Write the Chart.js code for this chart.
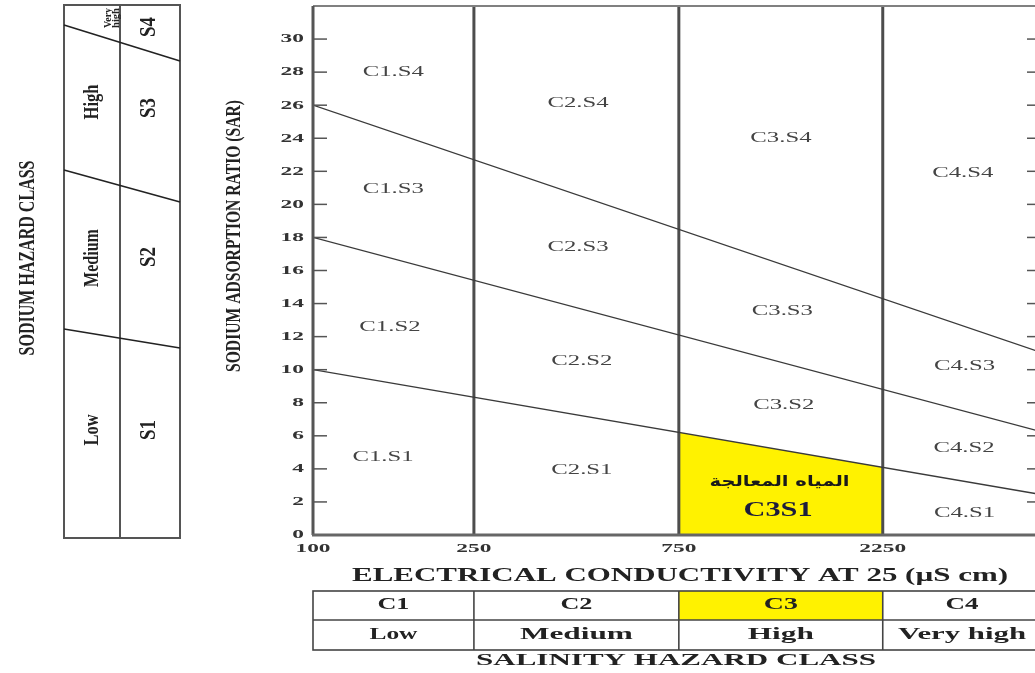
<!DOCTYPE html>
<html>
<head>
<meta charset="utf-8">
<script src="https://cdn.jsdelivr.net/npm/chart.js@4.4.1/dist/chart.umd.min.js"></script>
<style>
  html, body { margin: 0; padding: 0; background: #fff; overflow: hidden; }
  #wrap { position: relative; width: 1050px; height: 673px; }
</style>
</head>
<body>
<div id="wrap"><canvas id="wilcoxChart"></canvas></div>
<script>
// EC axis (uS/cm)
const ecTicks = [100, 250, 750, 2250];
const ecEdges = [100, 250, 750, 2250, 5000];
const sarTicks = [0, 2, 4, 6, 8, 10, 12, 14, 16, 18, 20, 22, 24, 26, 28, 30];

// hazard boundary lines: SAR at EC 100 and at EC 5000
const boundaryEC = [100, 5000];
const s1s2SAR = [10, 2.45];
const s2s3SAR = [18, 6.25];
const s3s4SAR = [26, 11.05];

// treated water zone (C3S1), top follows the S1/S2 line
const zoneEC = [750, 2250];
const zoneSAR = [6.2, 4.1];

// class labels inside the diagram
const regionNames = ['C1.S4', 'C1.S3', 'C1.S2', 'C1.S1',
                     'C2.S4', 'C2.S3', 'C2.S2', 'C2.S1',
                     'C3.S4', 'C3.S3', 'C3.S2',
                     'C4.S4', 'C4.S3', 'C4.S2', 'C4.S1'];
const regionEC = [158, 158, 155, 149,
                  437, 437, 446, 446,
                  1300, 1310, 1320,
                  3370, 3400, 3390, 3400];
const regionSAR = [28.0, 20.9, 12.6, 4.7,
                   26.1, 17.4, 10.5, 3.9,
                   24.0, 13.55, 7.85,
                   21.9, 10.2, 5.25, 1.33];

const treatedName = 'المياه المعالجة';
const treatedClass = 'C3S1';
const treatedEC = [1290, 1280];
const treatedSAR = [3.2, 1.5];

const salinityClasses = ['C1', 'C2', 'C3', 'C4'];
const salinityNames = ['Low', 'Medium', 'High', 'Very high'];
const sodiumClasses = ['S4', 'S3', 'S2', 'S1'];
const sodiumNames = ['High', 'Medium', 'Low'];

// the diagram's EC axis is piecewise logarithmic between class limits
const edgePos = [0, 0.786, 1.787, 2.783, 3.556];
function ecPos(ec) {
  for (let i = 0; i < ecEdges.length - 1; i++) {
    if (ec <= ecEdges[i + 1] || i === ecEdges.length - 2) {
      const f = Math.log(ec / ecEdges[i]) / Math.log(ecEdges[i + 1] / ecEdges[i]);
      return edgePos[i] + f * (edgePos[i + 1] - edgePos[i]);
    }
  }
}

const SERIF = 'Liberation Serif';

function drawText(ctx, str, x, y, o) {
  ctx.save();
  ctx.font = o.font;
  ctx.fillStyle = o.color || '#333';
  ctx.textAlign = o.align || 'center';
  ctx.textBaseline = 'middle';
  ctx.translate(x, y);
  if (o.rot) ctx.rotate(o.rot);
  let sx = o.sx || 1;
  if (o.width) sx = o.width / ctx.measureText(str).width;
  ctx.scale(sx, 1);
  ctx.fillText(str, 0, 0);
  ctx.restore();
}

function line(ctx, x1, y1, x2, y2, color, w) {
  ctx.save();
  ctx.strokeStyle = color;
  ctx.lineWidth = w;
  ctx.beginPath();
  ctx.moveTo(x1, y1);
  ctx.lineTo(x2, y2);
  ctx.stroke();
  ctx.restore();
}

const hazardPlugin = {
  id: 'hazard',
  afterDraw(chart) {
    const ctx = chart.ctx;
    const a = chart.chartArea;
    const xs = chart.scales.x, ys = chart.scales.y;
    const UP = -Math.PI / 2;

    // frame
    line(ctx, a.left, a.top, a.right, a.top, '#808080', 2);
    line(ctx, a.left, a.top, a.left, a.bottom, '#555', 3);
    line(ctx, a.right, a.top, a.right, a.bottom, '#555', 3);
    line(ctx, a.left - 1, a.bottom, a.right, a.bottom, '#666', 3);

    // inward ticks + labels
    ys.ticks.forEach(t => {
      const py = ys.getPixelForValue(t.value);
      if (t.value > 0) {
        line(ctx, a.left, py, a.left + 14, py, '#555', 1.5);
        line(ctx, a.right - 14, py, a.right, py, '#555', 1.5);
      }
      drawText(ctx, String(t.label), 304, py, { font: 'bold 13px ' + SERIF, sx: 1.8, align: 'right', color: '#333' });
    });
    xs.ticks.forEach(t => {
      drawText(ctx, String(t.label), xs.getPixelForValue(t.value), 549, { font: 'bold 13px ' + SERIF, sx: 1.8, color: '#333' });
    });

    // region labels
    regionNames.forEach((n, i) => {
      drawText(ctx, n, xs.getPixelForValue(ecPos(regionEC[i])), ys.getPixelForValue(regionSAR[i]),
        { font: '15px ' + SERIF, sx: 1.65, color: '#444' });
    });
    drawText(ctx, treatedName, xs.getPixelForValue(ecPos(treatedEC[0])), ys.getPixelForValue(treatedSAR[0]),
      { font: 'bold 15px "DejaVu Sans"', width: 140, color: '#1a1a1a' });
    drawText(ctx, treatedClass, xs.getPixelForValue(ecPos(treatedEC[1])), ys.getPixelForValue(treatedSAR[1]),
      { font: 'bold 21px ' + SERIF, width: 69, color: '#1c1c3c' });

    // axis titles
    drawText(ctx, 'SODIUM ADSORPTION RATIO (SAR)', 235, 236, { font: 'bold 21px ' + SERIF, width: 272, rot: UP, color: '#222' });
    drawText(ctx, 'ELECTRICAL CONDUCTIVITY AT 25 (µS cm)', 680, 576, { font: 'bold 19px ' + SERIF, width: 656, color: '#222' });

    // sodium hazard class table (left)
    const L = 64, M = 120, R = 180, T = 5, B = 538;
    ctx.save();
    ctx.strokeStyle = '#555';
    ctx.lineWidth = 2;
    ctx.strokeRect(L, T, R - L, B - T);
    ctx.restore();
    line(ctx, M, T, M, B, '#555', 2);
    line(ctx, L, 25, R, 61, '#222', 1.6);
    line(ctx, L, 170, R, 202, '#222', 1.6);
    line(ctx, L, 329, R, 348, '#222', 1.6);
    drawText(ctx, 'Very', 108, 18, { font: 'bold 11px ' + SERIF, width: 20, rot: UP, color: '#222' });
    drawText(ctx, 'high', 116, 18, { font: 'bold 11px ' + SERIF, width: 20, rot: UP, color: '#222' });
    const sodNameY = [102, 258, 430];
    const sodNameW = [35, 58, 31];
    sodiumNames.forEach((n, i) => {
      drawText(ctx, n, 92, sodNameY[i], { font: 'bold 22px ' + SERIF, width: sodNameW[i], rot: UP, color: '#222' });
    });
    const sodClassY = [27, 108, 257, 430];
    sodiumClasses.forEach((n, i) => {
      drawText(ctx, n, 149, sodClassY[i], { font: 'bold 23px ' + SERIF, width: 20, rot: UP, color: '#222' });
    });
    drawText(ctx, 'SODIUM HAZARD CLASS', 28, 258, { font: 'bold 23px ' + SERIF, width: 195, rot: UP, color: '#222' });

    // salinity hazard class table (bottom)
    const tT = 591, tM = 620, tB = 650;
    const cols = [a.left].concat(ecTicks.slice(1).map(e => xs.getPixelForValue(ecPos(e)))).concat([a.right]);
    ctx.save();
    ctx.fillStyle = '#fff200';
    ctx.fillRect(cols[2], tT, cols[3] - cols[2], tM - tT);
    ctx.restore();
    ctx.save();
    ctx.strokeStyle = '#444';
    ctx.lineWidth = 1.6;
    ctx.strokeRect(a.left, tT, a.right - a.left, tB - tT);
    ctx.restore();
    line(ctx, a.left, tM, a.right, tM, '#444', 1.6);
    cols.slice(1, 4).forEach(cx => line(ctx, cx, tT, cx, tB, '#444', 1.6));
    const clsW = [32, 32, 34, 33];
    const nameW = [48, 113, 66, 128];
    salinityClasses.forEach((n, i) => {
      const cx = i === 3 ? 962 : (cols[i] + cols[i + 1]) / 2;
      drawText(ctx, n, cx, 605, { font: 'bold 17px ' + SERIF, width: clsW[i], color: '#222' });
      drawText(ctx, salinityNames[i], cx, 635, { font: 'bold 17px ' + SERIF, width: nameW[i], color: '#222' });
    });
    drawText(ctx, 'SALINITY HAZARD CLASS', 676, 661, { font: 'bold 17px ' + SERIF, width: 400, color: '#222' });
  }
};

const flat = { pointRadius: 0, pointHoverRadius: 0, showLine: true, fill: false };

const datasets = [
  Object.assign({}, flat, {
    label: 'Treated water',
    data: zoneEC.map((e, i) => ({ x: ecPos(e), y: zoneSAR[i] })),
    fill: 'origin',
    backgroundColor: '#fff200',
    borderWidth: 0,
    order: 3
  })
];
[s1s2SAR, s2s3SAR, s3s4SAR].forEach((sar, k) => {
  datasets.push(Object.assign({}, flat, {
    label: 'Boundary ' + (k + 1),
    data: boundaryEC.map((e, i) => ({ x: ecPos(e), y: sar[i] })),
    borderColor: '#3a3a3a',
    borderWidth: 1.3,
    order: 1
  }));
});
ecTicks.slice(1).forEach(e => {
  datasets.push(Object.assign({}, flat, {
    label: 'EC ' + e,
    data: [{ x: ecPos(e), y: 0 }, { x: ecPos(e), y: 32 }],
    borderColor: '#4d4d4d',
    borderWidth: 3,
    order: 2
  }));
});

const config = {
  type: 'scatter',
  data: { datasets: datasets },
  options: {
    responsive: true,
    maintainAspectRatio: false,
    animation: false,
    layout: { padding: { top: 6, right: 9, left: 0, bottom: 0 } },
    plugins: {
      legend: { display: false },
      tooltip: { enabled: false }
    },
    scales: {
      x: {
        type: 'linear',
        min: 0,
        max: ecPos(5000),
        grid: { display: false },
        border: { display: false },
        ticks: { display: false, callback: (v, i) => ecTicks[i] },
        afterBuildTicks: s => { s.ticks = ecTicks.map(v => ({ value: ecPos(v) })); },
        afterFit: s => { s.height = 138; }
      },
      y: {
        min: 0,
        max: 32,
        grid: { display: false },
        border: { display: false },
        ticks: { display: false },
        afterBuildTicks: s => { s.ticks = sarTicks.map(v => ({ value: v })); },
        afterFit: s => { s.width = 313; }
      }
    }
  },
  plugins: [hazardPlugin]
};

const ctx = document.getElementById('wilcoxChart').getContext('2d');
const wilcoxChart = new Chart(ctx, config);
</script>
</body>
</html>
